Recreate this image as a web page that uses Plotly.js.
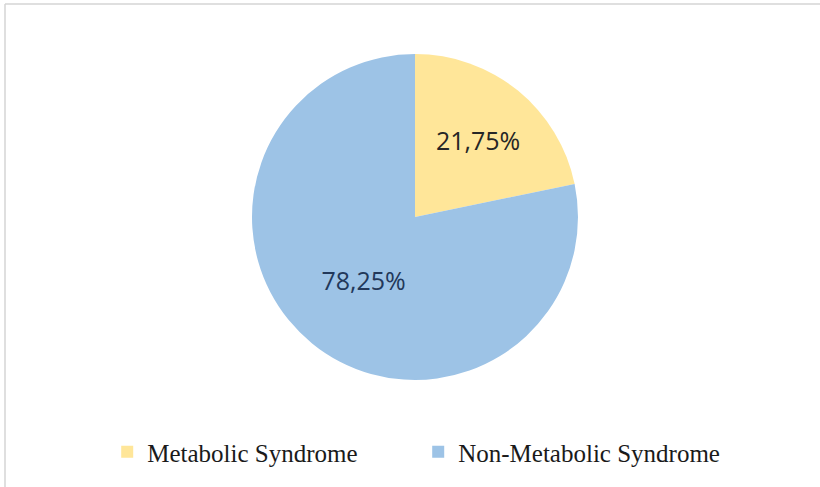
<!DOCTYPE html>
<html>
<head>
<meta charset="utf-8">
<script src="https://cdn.plot.ly/plotly-3.0.1.min.js"></script>
<style>html,body{margin:0;padding:0;background:#fff;}#chart{width:820px;height:487px;}</style>
</head>
<body>
<div id="chart"></div>
<script>
const categories = ['Metabolic Syndrome', 'Non-Metabolic Syndrome'];
const values = [21.75, 78.25];
const sliceColors = ['#FFE699', '#9DC3E6'];
const labelColors = ['#262626', '#22385A'];

const trace = {
  type: 'pie',
  labels: categories,
  values: values,
  sort: false,
  direction: 'clockwise',
  rotation: 0,
  marker: {colors: sliceColors, line: {color: '#ffffff', width: 0}},
  textinfo: 'percent',
  texttemplate: '%{percent:.2%}',
  textposition: 'inside',
  insidetextorientation: 'horizontal',
  textfont: {family: 'Open Sans, sans-serif', size: 25, color: labelColors},
  hoverinfo: 'label+percent',
  domain: {x: [252/820, 578/820], y: [1 - 380/487, 1 - 54/487]}
};

const layout = {
  width: 820, height: 487,
  margin: {l: 0, r: 0, t: 0, b: 0},
  paper_bgcolor: '#ffffff',
  separators: ', ',
  showlegend: true,
  legend: {
    orientation: 'h',
    x: 0.51, xanchor: 'center',
    y: 1 - 452/487, yanchor: 'middle',
    font: {family: 'Liberation Serif, Times New Roman, serif', size: 25, color: '#1a1a1a'},
    itemwidth: 30,
    entrywidth: 266,
    entrywidthmode: 'pixels',
    tracegroupgap: 0
  },
  shapes: [
    {type: 'line', xref: 'paper', yref: 'paper', x0: 5/820, x1: 1, y0: 1 - 4/487, y1: 1 - 4/487, line: {color: '#d4d4d4', width: 1.5}},
    {type: 'line', xref: 'paper', yref: 'paper', x0: 5/820, x1: 5/820, y0: 0, y1: 1 - 4/487, line: {color: '#d4d4d4', width: 1.5}}
  ]
};

Plotly.newPlot('chart', [trace], layout, {displayModeBar: false, staticPlot: true});
</script>
</body>
</html>
